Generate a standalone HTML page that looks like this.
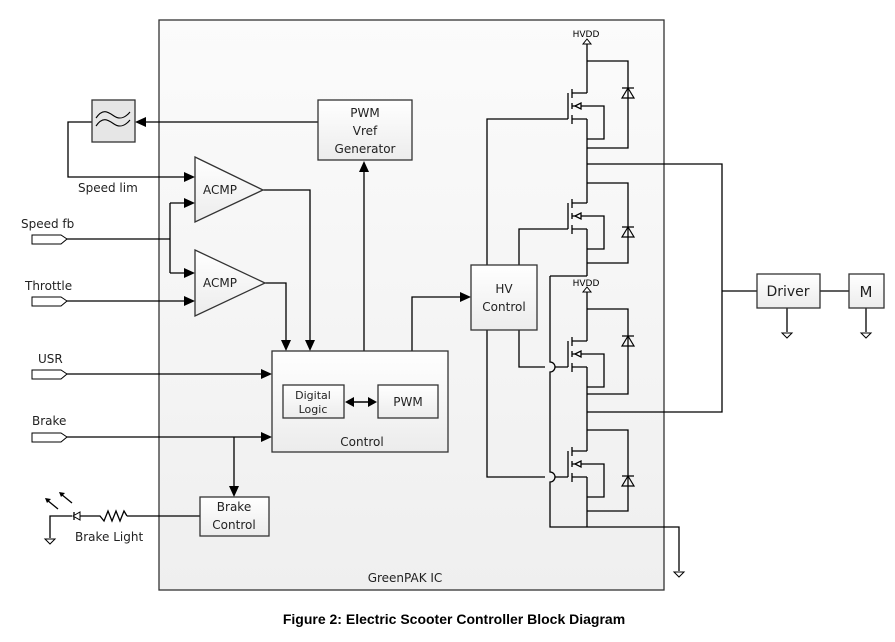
<!DOCTYPE html>
<html><head><meta charset="utf-8"><style>
html,body{margin:0;padding:0;background:#fff;}
svg{display:block;font-family:"DejaVu Sans","Liberation Sans",sans-serif;}
</style></head><body>
<svg width="895" height="642" viewBox="0 0 895 642" xmlns="http://www.w3.org/2000/svg">
<defs>
<linearGradient id="g" x1="0" y1="0" x2="0" y2="1"><stop offset="0" stop-color="#ffffff"/><stop offset="1" stop-color="#ececec"/></linearGradient>
<linearGradient id="gb" x1="0" y1="0" x2="0" y2="1"><stop offset="0" stop-color="#fbfbfb"/><stop offset="1" stop-color="#efefef"/></linearGradient>
<g id="fet" fill="none" stroke="#000" stroke-width="1.3">
<path d="M587 0H572 M572 -4V5 M572 10V16 M572 22V31 M568 0V26 M572 13H578 M581 13H604V46H587 M572 26H587"/>
<path d="M575 13L581 10V16Z" fill="#fff"/>
</g>
<g id="dio" fill="none" stroke="#000" stroke-width="1.2">
<path d="M622 -5H634 M628 -5L622 5H634Z"/>
</g>
<path id="gnd" d="M-5 0H5L0 5Z" fill="#fff" stroke="#000" stroke-width="1"/>
</defs>

<rect x="159" y="20" width="505" height="570" fill="url(#gb)" stroke="#333" stroke-width="1.3"/>
<text x="405" y="582" font-size="12" text-anchor="middle" fill="#222">GreenPAK IC</text>

<g fill="none" stroke="#000" stroke-width="1.3">
<path d="M92 122H68V177H185"/>
<path d="M318 122H145"/>
<path d="M67 239H170 M170 203V273 M170 203H185 M170 273H185"/>
<path d="M67 301H185"/>
<path d="M263 190H310V341 M265 283H286V341"/>
<path d="M364 351V172"/>
<path d="M412 385V297H461"/>
<path d="M67 374H262 M67 437H262 M234 437V487"/>
<path d="M200 516H127 M127 516L124 511L120 521L116 511L112 521L108 511L104 521L100 516H80 M72 516H50V538"/>
<path d="M74 512V520"/>
<path d="M58 509L47 500 M72 503L61 494"/>
<path d="M568 119H487V265 M568 229H519V265 M519 330V367H545 M555 367H568 M487 330V477H545 M555 477H568"/>
<path d="M587 44V93 M587 119V203 M587 229V276 M587 291V341 M587 367V451 M587 477V527"/>
<path d="M550 276H587 M550 276V362 A5 5 0 0 1 550 372 V472 A5 5 0 0 1 550 482 V527H679V571"/>
<path d="M587 61H628V148H587 M587 183H628V263H587 M587 309H628V394H587 M587 430H628V511H587"/>
<path d="M587 164H722V412H587 M722 291H757 M820 291H849 M787 308V332 M866 308V332"/>
</g>

<g fill="#000">
<path d="M135 122L146 117V127Z"/>
<path d="M195 177L184 172V182Z"/>
<path d="M195 203L184 198V208Z"/>
<path d="M195 273L184 268V278Z"/>
<path d="M195 301L184 296V306Z"/>
<path d="M310 351L305 340H315Z"/>
<path d="M286 351L281 340H291Z"/>
<path d="M364 161L359 172H369Z"/>
<path d="M471 297L460 292V302Z"/>
<path d="M272 374L261 369V379Z"/>
<path d="M272 437L261 432V442Z"/>
<path d="M234 497L229 486H239Z"/>
<path d="M45 498L51 499L47 503Z"/>
<path d="M59 492L65 493L61 497Z"/>
</g>
<path d="M73 516L80 512V520Z" fill="#fff" stroke="#000" stroke-width="1"/>

<use href="#fet" y="93"/><use href="#fet" y="203"/><use href="#fet" y="341"/><use href="#fet" y="451"/>
<use href="#dio" y="93"/><use href="#dio" y="232"/><use href="#dio" y="341"/><use href="#dio" y="481"/>
<text x="586" y="37" font-size="9" text-anchor="middle">HVDD</text>
<text x="586" y="286" font-size="9" text-anchor="middle">HVDD</text>
<path d="M583 44H591L587 39Z M583 292H591L587 287Z" fill="#fff" stroke="#000" stroke-width="1"/>
<use href="#gnd" x="679" y="572"/><use href="#gnd" x="787" y="333"/><use href="#gnd" x="866" y="333"/><use href="#gnd" x="50" y="539"/>

<g fill="#fff" stroke="#000" stroke-width="1">
<path d="M32 235H61L67 239L61 244H32Z"/>
<path d="M32 297H61L67 301L61 306H32Z"/>
<path d="M32 370H61L67 374L61 379H32Z"/>
<path d="M32 433H61L67 437L61 442H32Z"/>
</g>

<g stroke="#333" stroke-width="1.3" fill="url(#g)">
<rect x="92" y="100" width="43" height="42" fill="#e6e6e6"/>
<rect x="318" y="100" width="94" height="60"/>
<path d="M195 157L263 190L195 222Z"/>
<path d="M195 250L265 283L195 316Z"/>
<rect x="272" y="351" width="176" height="101"/>
<rect x="283" y="385" width="61" height="33"/>
<rect x="378" y="385" width="60" height="33"/>
<rect x="471" y="265" width="66" height="65"/>
<rect x="200" y="497" width="69" height="39"/>
<rect x="757" y="274" width="63" height="34"/>
<rect x="849" y="274" width="35" height="34"/>
</g>
<path d="M96 118C103 108 108 112 114 116C120 120 125 118 130 112 M96 126C103 116 108 120 114 124C120 128 125 126 130 120" fill="none" stroke="#000" stroke-width="1.1"/>
<path d="M352 402H370" stroke="#000" stroke-width="1.4"/>
<path d="M345 402L354 397V407Z M377 402L368 397V407Z" fill="#000"/>

<g font-size="12" fill="#222" text-anchor="middle">
<text x="365" y="117">PWM</text><text x="365" y="135">Vref</text><text x="365" y="153">Generator</text>
<text x="220" y="194">ACMP</text><text x="220" y="287">ACMP</text>
<text x="313" y="399" font-size="11">Digital</text><text x="313" y="413" font-size="11">Logic</text>
<text x="408" y="406">PWM</text>
<text x="362" y="446">Control</text>
<text x="504" y="293">HV</text><text x="504" y="311">Control</text>
<text x="234" y="511">Brake</text><text x="234" y="529">Control</text>
<text x="788" y="296" font-size="14">Driver</text>
<text x="866" y="297" font-size="15">M</text>
</g>
<g font-size="12" fill="#222">
<text x="78" y="192">Speed lim</text>
<text x="21" y="228">Speed fb</text>
<text x="25" y="290">Throttle</text>
<text x="38" y="363">USR</text>
<text x="32" y="425">Brake</text>
<text x="75" y="541">Brake Light</text>
</g>
<text x="454" y="624" font-size="14" font-weight="bold" text-anchor="middle" font-family="Liberation Sans, Arial, sans-serif">Figure 2: Electric Scooter Controller Block Diagram</text>
</svg>
</body></html>
